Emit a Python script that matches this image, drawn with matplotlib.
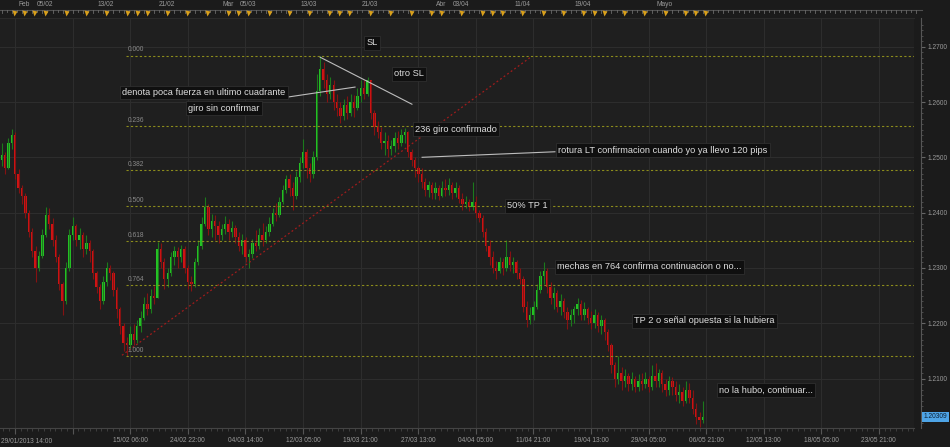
import matplotlib
matplotlib.use("Agg")
import matplotlib.pyplot as plt
import matplotlib.transforms as mtransforms
import numpy as np

plt.rcParams["font.family"] = ["Liberation Sans", "DejaVu Sans"]

# 8h bars, prices in pips above 1.2000
BASE = 1.2000
opens_pips = [
    495, 505, 480, 525, 540, 470, 445, 430, 400, 365,
    330, 300, 322, 360, 395, 380, 350, 320, 270, 240,
    300, 360, 375, 350, 360, 335, 345, 330, 290, 265,
    240, 275, 300, 290, 260, 225, 195, 165, 160, 180,
    170, 195, 210, 235, 225, 250, 245, 335, 310, 280,
    290, 320, 330, 320, 335, 300, 275, 270, 310, 340,
    380, 410, 370, 385, 375, 360, 370, 380, 365, 372,
    355, 340, 350, 320, 325, 345, 340, 360, 350, 365,
    380, 400, 395, 420, 440, 460, 445, 430, 465, 490,
    510, 480, 470, 500, 620, 660, 640, 615, 630, 600,
    590, 575, 595, 580, 600, 590, 610, 625, 615, 640,
    580, 555, 545, 525, 530, 515, 520, 535, 525, 540,
    545, 510, 495, 480, 470, 455, 440, 450, 435, 445,
    430, 445, 440, 450, 435, 445, 425, 415, 420, 410,
    420, 400, 390, 365, 340, 320, 300, 295, 310, 300,
    320, 305, 310, 290, 280, 230, 205, 215, 230, 260,
    285, 295, 265, 245, 255, 230, 240, 220, 205, 215,
    225, 235, 215, 225, 210, 200, 215, 195, 205, 185,
    160, 125, 100, 110, 95, 105, 90, 100, 85, 95,
    90, 100, 85, 105, 95, 110, 90, 80, 95, 85,
    70, 75, 60, 80, 65, 45, 30, 25,
]
highs_pips = [
    525, 510, 535, 552, 545, 478, 450, 435, 405, 372,
    340, 330, 370, 410, 408, 390, 360, 325, 275, 310,
    370, 392, 380, 372, 365, 360, 350, 335, 295, 270,
    285, 310, 306, 295, 265, 230, 200, 175, 195, 198,
    205, 222, 248, 255, 262, 268, 347, 345, 318, 300,
    328, 340, 338, 342, 340, 305, 285, 318, 350, 392,
    428, 415, 398, 395, 385, 380, 393, 388, 385, 378,
    365, 362, 355, 335, 352, 368, 372, 382, 375, 392,
    408, 418, 428, 450, 468, 470, 455, 475, 500, 533,
    515, 490, 512, 650, 684, 672, 650, 645, 640, 615,
    600, 605, 610, 615, 612, 625, 640, 640, 645, 640,
    585, 565, 555, 545, 540, 532, 545, 548, 552, 553,
    548, 515, 500, 485, 480, 462, 458, 455, 455, 450,
    458, 460, 462, 455, 455, 450, 435, 430, 425, 455,
    430, 405, 395, 372, 350, 330, 312, 320, 318, 351,
    330, 320, 315, 300, 285, 240, 230, 240, 270, 295,
    310, 300, 275, 265, 260, 252, 245, 230, 225, 232,
    245, 242, 238, 230, 222, 225, 220, 215, 210, 190,
    165, 130, 140, 120, 118, 110, 112, 105, 108, 110,
    112, 105, 125, 128, 118, 115, 100, 105, 103, 95,
    90, 85, 95, 92, 80, 55, 40, 60,
]
lows_pips = [
    485, 470, 478, 515, 460, 435, 415, 390, 355, 320,
    275, 295, 318, 355, 370, 340, 310, 260, 215, 235,
    295, 350, 340, 335, 320, 325, 310, 280, 255, 225,
    235, 268, 278, 250, 210, 180, 150, 141, 155, 160,
    165, 185, 205, 215, 218, 235, 245, 300, 262, 265,
    285, 305, 300, 310, 290, 262, 258, 265, 305, 335,
    375, 360, 355, 350, 345, 350, 362, 350, 355, 345,
    330, 325, 310, 300, 318, 330, 335, 340, 345, 358,
    375, 385, 392, 415, 435, 430, 405, 425, 455, 480,
    462, 455, 462, 495, 610, 625, 600, 605, 585, 575,
    562, 568, 570, 575, 572, 585, 600, 605, 610, 570,
    540, 535, 515, 505, 500, 505, 510, 515, 520, 525,
    500, 485, 465, 455, 445, 430, 428, 425, 425, 422,
    428, 430, 432, 425, 428, 418, 405, 408, 402, 405,
    390, 383, 355, 330, 305, 290, 280, 290, 288, 295,
    295, 290, 280, 270, 220, 193, 198, 205, 225, 255,
    270, 255, 235, 225, 220, 215, 210, 190, 195, 200,
    215, 205, 205, 198, 190, 192, 185, 180, 170, 150,
    110, 85, 90, 80, 85, 78, 80, 75, 78, 80,
    82, 75, 80, 85, 85, 75, 68, 70, 70, 60,
    55, 50, 55, 55, 35, 18, 12, 20,
]
closes_pips = [
    505, 480, 525, 540, 470, 445, 430, 400, 365, 330,
    300, 322, 360, 395, 380, 350, 320, 270, 240, 300,
    360, 375, 350, 360, 335, 345, 330, 290, 265, 240,
    275, 300, 290, 260, 225, 195, 165, 160, 180, 170,
    195, 210, 235, 225, 250, 245, 335, 310, 280, 290,
    320, 330, 320, 335, 300, 275, 270, 310, 340, 380,
    410, 370, 385, 375, 360, 370, 380, 365, 372, 355,
    340, 350, 320, 325, 345, 340, 360, 350, 365, 380,
    400, 395, 420, 440, 460, 445, 430, 465, 490, 510,
    480, 470, 500, 620, 660, 640, 615, 630, 600, 590,
    575, 595, 580, 600, 590, 610, 625, 615, 640, 580,
    555, 545, 525, 530, 515, 520, 535, 525, 540, 545,
    510, 495, 480, 470, 455, 440, 450, 435, 445, 430,
    445, 440, 450, 435, 445, 425, 415, 420, 410, 420,
    400, 390, 365, 340, 320, 300, 295, 310, 300, 320,
    305, 310, 290, 280, 230, 205, 215, 230, 260, 285,
    295, 265, 245, 255, 230, 240, 220, 205, 215, 225,
    235, 215, 225, 210, 200, 215, 195, 205, 185, 160,
    125, 100, 110, 95, 105, 90, 100, 85, 95, 90,
    100, 85, 105, 95, 110, 90, 80, 95, 85, 70,
    75, 60, 80, 65, 45, 30, 25, 31,
]
last_price = 1.20309

# fibonacci retracement drawn from the swing low to the swing high
swing_high = 1.2684
swing_low = 1.2141
fib_start = 36.7
fib_ratios = [0.0, 0.236, 0.382, 0.5, 0.618, 0.764, 1.0]

# hand drawn lines (bar index, price)
lt_line = [(35.5, 1.2142), (155.9, 1.2680)]
sl_line = [(94.0, 1.2681), (121.1, 1.2596)]
denota_line = [(84.5, 1.2609), (104.3, 1.2627)]
rotura_line = [(124.1, 1.2500), (163.3, 1.2510)]

notes = [
    ("SL", 109.3, 1.2707),
    ("otro SL", 120.2, 1.2651),
    ("denota poca fuerza en ultimo cuadrante", 59.6, 1.2617),
    ("giro sin confirmar", 65.5, 1.2589),
    ("236 giro confirmado", 134.1, 1.2551),
    ("rotura LT confirmacion cuando yo ya llevo 120 pips", 195.2, 1.2513),
    ("50% TP 1", 155.3, 1.2412),
    ("mechas en 764 confirma continuacion o no...", 191.2, 1.2302),
    ("TP 2 o señal opuesta si la hubiera", 207.4, 1.2204),
    ("no la hubo, continuar...", 225.6, 1.2079),
]

first_date = "29/01/2013 14:00"
date_labels = ["", "", "15/02 06:00", "24/02 22:00", "04/03 14:00", "12/03 05:00",
               "19/03 21:00", "27/03 13:00", "04/04 05:00", "11/04 21:00",
               "19/04 13:00", "29/04 05:00", "06/05 21:00", "12/05 13:00",
               "18/05 05:00", "23/05 21:00"]
top_labels = [("Feb", 6.6), ("05/02", 12.8), ("13/02", 30.8), ("21/02", 48.8),
              ("Mar", 66.8), ("05/03", 72.7), ("13/03", 90.7), ("21/03", 108.7),
              ("Abr", 129.7), ("03/04", 135.6), ("11/04", 153.6), ("19/04", 171.6),
              ("Mayo", 195.8)]
session_marks = [3.6, 6.6, 9.5, 12.8, 19.0, 24.9, 30.8, 37.0, 39.9, 42.9, 48.8,
                 54.7, 60.6, 66.8, 69.7, 72.7, 78.9, 84.8, 90.7, 96.6, 99.6, 102.5,
                 108.7, 114.6, 120.8, 126.7, 129.7, 135.6, 141.8, 144.7, 147.7,
                 153.6, 159.8, 165.7, 171.6, 174.8, 177.8, 183.7, 189.6, 195.8,
                 201.7, 204.6, 207.6]

BG = "#1b1b1b"
PANEL = "#1f1f1f"
GRID = "#2d2d2d"
TXT = "#9a9a9a"

o = BASE + np.array(opens_pips) / 1e4
h = BASE + np.array(highs_pips) / 1e4
l = BASE + np.array(lows_pips) / 1e4
c = BASE + np.array(closes_pips) / 1e4
x = np.arange(len(c))

fig = plt.figure(figsize=(9.5, 4.47), dpi=100, facecolor=BG)
ax = fig.add_axes([0, 19 / 447, 914 / 950, 410 / 447], facecolor=PANEL)
xmin, xmax = -0.5, 269.3
ax.set_xlim(xmin, xmax)
ax.set_ylim(1.20105, 1.27519)

# grid
major_x = 3.93 + 17 * np.arange(len(date_labels))
ax.set_xticks(major_x)
ax.set_xticklabels(date_labels)
ax.set_xticks(np.arange(3.93 - 1.7 * 2, xmax, 1.7), minor=True)
ax.set_yticks(np.arange(1.21, 1.2701, 0.01))
ax.set_yticks(np.arange(1.202, 1.275, 0.001), minor=True)
ax.yaxis.set_major_formatter(plt.FuncFormatter(lambda v, p: f"{v:.4f}"))
ax.grid(True, which="major", color=GRID, lw=0.8)
ax.set_axisbelow(True)

# candles
up = c >= o
hi = np.maximum(h, np.maximum(o, c))
lo = np.minimum(l, np.minimum(o, c))
ax.vlines(x[up], lo[up], hi[up], color="#1c7a1c", lw=0.8)
ax.vlines(x[~up], lo[~up], hi[~up], color="#851212", lw=0.8)
body = np.maximum(np.abs(c - o), 0.00008)
ax.bar(x[up], body[up], bottom=o[up], width=0.7, color="#25c425", lw=0)
ax.bar(x[~up], body[~up], bottom=c[~up], width=0.7, color="#d01414", lw=0)

# fibonacci levels
for r in fib_ratios:
    lvl = swing_high - r * (swing_high - swing_low)
    ax.hlines(lvl, fib_start, xmax, colors="#8c8c1c", linestyles=(0, (2, 2)), lw=0.8)
    ax.annotate(f"{r:.3f}", (fib_start, lvl), xytext=(1, 1.5), textcoords="offset points",
                color="#8a8a8a", fontsize=4.8, va="bottom", ha="left")

# drawn lines
ax.plot(*zip(*lt_line), color="#a01c1c", lw=0.9, ls=(0, (1.5, 2)))
ax.plot(*zip(*sl_line), color="#bdbdbd", lw=0.8)
ax.plot(*zip(*denota_line), color="#bdbdbd", lw=0.8)
ax.plot(*zip(*rotura_line), color="#bdbdbd", lw=0.8)

for text, tx, ty in notes:
    ax.text(tx, ty, text, ha="center", va="center", fontsize=6.7, color="#dedede",
            bbox=dict(boxstyle="square,pad=0.25", fc="#0f0f0f", ec="#333333", lw=0.5))

# axes styling
ax.spines["left"].set_visible(False)
ax.spines["top"].set_color("#2a2a2a")
ax.spines["bottom"].set_color("#444444")
ax.spines["right"].set_color("#555555")
ax.spines["right"].set_position(("outward", 5))
ax.yaxis.tick_right()
ax.tick_params(axis="y", which="major", length=3, color="#666666", labelcolor=TXT,
               labelsize=4.8, pad=1.5)
ax.tick_params(axis="y", which="minor", length=1.5, color="#555555")
ax.tick_params(axis="x", which="major", length=4, color="#555555", labelcolor=TXT,
               labelsize=4.8, pad=2.5)
ax.tick_params(axis="x", which="minor", length=2, color="#444444")
ax.text(0.001, -0.032, first_date, transform=ax.transAxes, ha="left", va="center",
        fontsize=4.8, color=TXT)

# price tag
tag = mtransforms.blended_transform_factory(ax.transAxes, ax.transData)
ax.text(1.0105, last_price, f"{last_price:.5f}", transform=tag, ha="left", va="center",
        fontsize=4.8, color="#0d2236",
        bbox=dict(boxstyle="square,pad=0.2", fc="#4ea4e6", ec="none"))

# top session strip
top = mtransforms.blended_transform_factory(ax.transData, fig.transFigure)
y_line = 1 - 10 / 447
ax.plot([xmin, 271.6], [y_line, y_line], transform=top, clip_on=False,
        color="#505050", lw=0.8)
ticks_top = np.arange(0, 271.5, 1.5)
for i, t in enumerate(ticks_top):
    ln = 3 if i % 2 == 0 else 2
    ax.plot([t, t], [y_line, y_line - ln / 447], transform=top, clip_on=False,
            color="#6a6a6a", lw=0.6)
ax.plot(session_marks, [y_line - 2.5 / 447] * len(session_marks), "v", ms=3.6,
        color="#d9a01c", mec="none", transform=top, clip_on=False)
for lab, tx in top_labels:
    ax.text(tx, 1 - 5 / 447, lab, transform=top, ha="center", va="center",
            fontsize=4.8, color=TXT)

fig.savefig("out.png", dpi=100, facecolor=BG)
